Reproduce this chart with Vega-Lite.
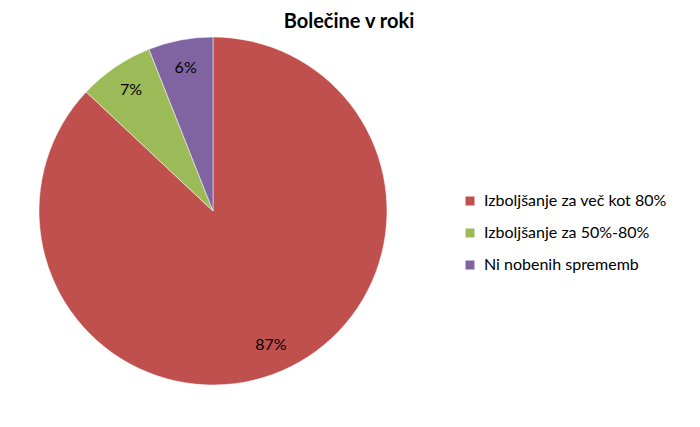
{
  "$schema": "https://vega.github.io/schema/vega-lite/v6.json",
  "autosize": {"type": "none"},
  "width": 348,
  "height": 348,
  "padding": {"left": 39, "top": 37, "right": 313, "bottom": 42},
  "background": "white",
  "config": {"view": {"stroke": null}, "font": "Lato"},
  "title": {
    "text": "Bolečine v roki",
    "fontSize": 20,
    "fontWeight": "bold",
    "font": "Lato",
    "color": "#000000",
    "anchor": "middle",
    "dx": 136,
    "offset": 4
  },
  "data": {
    "values": [
      {"category": "Izboljšanje za več kot 80%", "value": 87, "label": "87%", "order": 1},
      {"category": "Izboljšanje za 50%-80%", "value": 7, "label": "7%", "order": 2},
      {"category": "Ni nobenih sprememb", "value": 6, "label": "6%", "order": 3}
    ]
  },
  "encoding": {
    "theta": {"field": "value", "type": "quantitative", "stack": true},
    "order": {"field": "order", "type": "quantitative"}
  },
  "layer": [
    {
      "mark": {"type": "arc", "outerRadius": 174, "stroke": "white", "strokeWidth": 0.5},
      "encoding": {
        "color": {
          "field": "category",
          "type": "nominal",
          "sort": ["Izboljšanje za več kot 80%", "Izboljšanje za 50%-80%", "Ni nobenih sprememb"],
          "scale": {
            "domain": ["Izboljšanje za več kot 80%", "Izboljšanje za 50%-80%", "Ni nobenih sprememb"],
            "range": ["#C0504D", "#9BBB59", "#8064A2"]
          },
          "legend": {
            "title": null,
            "orient": "none",
            "legendX": 423,
            "legendY": 156,
            "symbolType": "square",
            "symbolSize": 81,
            "symbolStrokeWidth": 0,
            "symbolOpacity": 1,
            "labelFontSize": 16,
            "labelFont": "Lato",
            "labelColor": "#000000",
            "labelLimit": 300,
            "rowPadding": 16,
            "labelOffset": 6
          }
        }
      }
    },
    {
      "mark": {"type": "text", "radius": 146, "fontSize": 16, "font": "Lato", "color": "#000000"},
      "encoding": {
        "text": {"field": "label", "type": "nominal"}
      }
    }
  ]
}
